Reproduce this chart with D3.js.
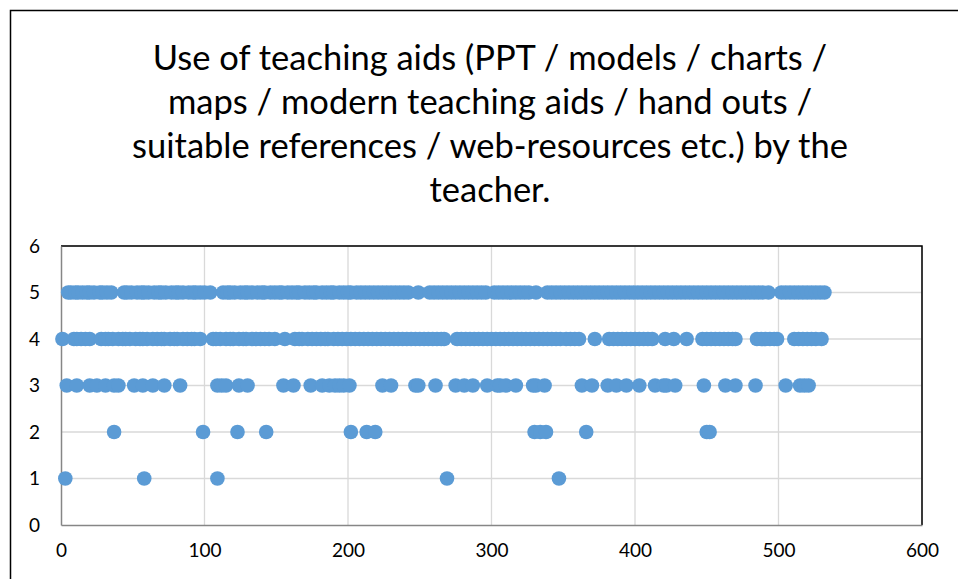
<!DOCTYPE html>
<html>
<head>
<meta charset="utf-8">
<script src="https://cdn.jsdelivr.net/npm/d3@7"></script>
<style>
  body { margin: 0; background: #fff; }
  text { font-family: Lato, "Open Sans", sans-serif; fill: #000; }
</style>
</head>
<body>
<svg id="chart" width="958" height="579"></svg>
<script>
// title lines
const titleLines = [
  "Use of teaching aids (PPT / models / charts /",
  "maps / modern teaching aids / hand outs /",
  "suitable references / web-resources etc.) by the",
  "teacher."
]

const xTicks = [0, 100, 200, 300, 400, 500, 600]
const yTicks = [0, 1, 2, 3, 4, 5, 6]

// x positions (respondent no.) for each rating
const level1 = [3, 58, 109, 269, 347]
const level2 = [37, 99, 123, 143, 202, 213, 219, 330, 334, 338, 366, 450, 452]
const level3 = [4, 11, 20, 25, 31, 37, 40, 51, 57, 64, 72, 83, 109, 112, 115, 124, 130, 155, 162, 174, 182, 187, 191, 194, 197, 201,
  224, 230, 247, 249, 261, 275, 281, 287, 297, 304, 306, 310, 317, 329, 331, 337, 363, 370, 381, 387, 394, 403, 414, 420, 422, 428,
  448, 463, 470, 484, 505, 515, 518, 521]
const level4 = [1, 9, 11, 14, 17, 20, 28, 31, 33, 36, 40, 43, 45, 48, 52, 55, 57, 60, 64, 67, 70, 72, 76, 79, 81, 85, 88, 91, 93, 97,
  106, 108, 111, 115, 118, 120, 124, 127, 129, 133, 136, 139, 142, 145, 149, 156, 163, 166, 168, 172, 175, 178, 181, 184, 186, 190,
  193, 196, 199, 202, 205, 208, 211, 214, 217, 220, 223, 226, 229, 232, 235, 238, 241, 244, 247, 250, 253, 256, 259, 262, 265, 267,
  276, 279, 282, 285, 288, 291, 294, 297, 300, 303, 306, 309, 312, 315, 318, 321, 324, 327, 330, 333, 336, 339, 342, 345, 348, 352,
  355, 358, 361, 372, 382, 385, 388, 391, 394, 397, 400, 403, 406, 409, 412, 421, 427, 436, 447, 450, 453, 456, 459, 462, 465, 468,
  470, 485, 488, 491, 494, 497, 499, 511, 514, 517, 520, 523, 526, 530]
const level5 = [5, 7, 10, 12, 15, 18, 20, 23, 27, 29, 32, 35, 44, 46, 49, 53, 56, 58, 61, 65, 68, 70, 73, 77, 80, 82, 85, 89, 92, 94,
  97, 100, 104, 113, 116, 118, 121, 125, 128, 130, 133, 137, 140, 142, 146, 149, 152, 154, 158, 161, 164, 166, 170, 173, 176, 178,
  182, 185, 188, 190, 194, 197, 200, 202, 206, 209, 212, 215, 218, 221, 224, 227, 230, 233, 236, 239, 242, 249, 257, 260, 263, 266,
  269, 272, 275, 278, 281, 284, 287, 290, 293, 296, 302, 305, 308, 311, 314, 317, 320, 323, 326, 331, 339, 342, 345, 348, 351, 354,
  357, 360, 363, 366, 369, 372, 375, 378, 381, 384, 387, 390, 393, 396, 399, 402, 405, 408, 411, 414, 417, 420, 423, 426, 429, 432,
  435, 438, 441, 444, 447, 450, 453, 456, 459, 462, 465, 468, 471, 474, 477, 480, 483, 486, 489, 493, 502, 505, 508, 511, 514, 517,
  520, 523, 526, 529, 532]

const points = []
;[[level1, 1], [level2, 2], [level3, 3], [level4, 4], [level5, 5]].forEach(([arr, v]) => {
  arr.forEach(x => points.push({ x: x, y: v }))
})

const svg = d3.select("#chart")
const margin = { top: 246, right: 36, bottom: 54, left: 61 }

// outer chart frame
svg.append("rect")
  .attr("x", 10.5).attr("y", 10.5)
  .attr("width", 990).attr("height", 600)
  .attr("fill", "#fff").attr("stroke", "#000").attr("stroke-width", 1.5)

// title
const title = svg.append("text").attr("text-anchor", "middle")
titleLines.forEach((t, i) => {
  title.append("tspan")
    .attr("x", 490).attr("y", 70 + i * 44)
    .style("font-size", "34.5px")
    .text(t)
})

const x = d3.scaleLinear().domain([0, 600]).range([margin.left, 922])
const y = d3.scaleLinear().domain([0, 6]).range([525, margin.top])

// gridlines
svg.append("g")
  .selectAll("line.h").data(yTicks.slice(1)).enter().append("line")
  .attr("x1", x(0)).attr("x2", x(600))
  .attr("y1", d => y(d)).attr("y2", d => y(d))
  .attr("stroke", "#d9d9d9").attr("stroke-width", 1.3)
svg.append("g")
  .selectAll("line.v").data(xTicks.slice(1)).enter().append("line")
  .attr("y1", y(0)).attr("y2", y(6))
  .attr("x1", d => x(d)).attr("x2", d => x(d))
  .attr("stroke", "#d9d9d9").attr("stroke-width", 1.3)

// plot frame (top / right dark)
svg.append("path")
  .attr("d", `M${x(0)},${y(6)}H${x(600)}V${y(0)}`)
  .attr("fill", "none").attr("stroke", "#000").attr("stroke-width", 1.5)

// axes
const xAxis = svg.append("g")
  .attr("transform", "translate(0," + y(0) + ")")
  .call(d3.axisBottom(x).tickValues(xTicks).tickSize(0).tickPadding(19).tickFormat(d3.format("d")))
xAxis.select(".domain").attr("stroke", "#868686").attr("stroke-width", 1.5)
xAxis.selectAll("text").style("font-size", "19px").style("font-family", "Lato, sans-serif")

const yAxis = svg.append("g")
  .attr("transform", "translate(" + x(0) + ",0)")
  .call(d3.axisLeft(y).tickValues(yTicks).tickSize(0).tickPadding(21).tickFormat(d3.format("d")))
yAxis.select(".domain").attr("stroke", "#868686").attr("stroke-width", 1.5)
yAxis.selectAll("text").style("font-size", "19px").style("font-family", "Lato, sans-serif")

// points
svg.append("g")
  .selectAll("circle")
  .data(points)
  .enter()
  .append("circle")
  .attr("cx", d => x(d.x))
  .attr("cy", d => y(d.y))
  .attr("r", 7.3)
  .attr("fill", "#5b9bd5")
</script>
</body>
</html>
